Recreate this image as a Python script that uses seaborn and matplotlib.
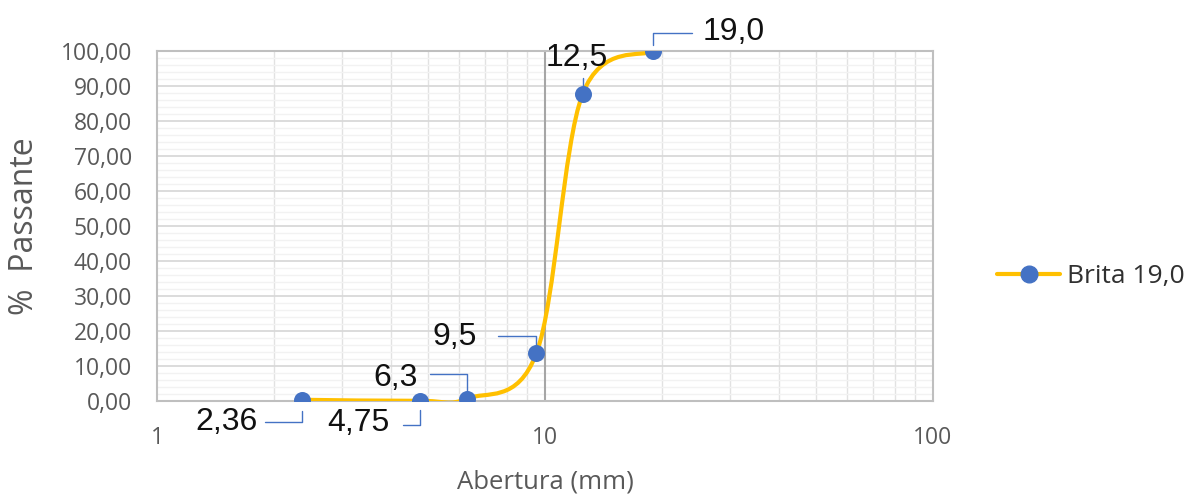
import matplotlib
matplotlib.use('Agg')
import matplotlib.pyplot as plt
import seaborn as sns
import pandas as pd
import numpy as np
from matplotlib.path import Path
from matplotlib.patches import PathPatch
from matplotlib.lines import Line2D
from matplotlib.ticker import FixedLocator, MultipleLocator, FuncFormatter, NullFormatter

# dados da curva granulometrica
aberturas = [2.36, 4.75, 6.3, 9.5, 12.5, 19.0]
passante = [0.35, 0.05, 0.7, 13.6, 87.7, 100.0]
rotulos = ['2,36', '4,75', '6,3', '9,5', '12,5', '19,0']
serie = 'Brita 19,0'

# posicao dos rotulos (pixels em relacao ao ponto)
rot_pos = [(-44, -22, 'right'), (-30, -22, 'right'), (-49, 21, 'right'),
           (-59, 16, 'right'), (-6, 36, 'center'), (49, 19, 'left')]
guia_ini = [(-37, -22), (-17, -24), (-37, 25), (-38, 17), (0, 16), (39, 18)]
guia_gap = [11, 9, 6, 6, 6, 6]

AMARELO = '#FFC000'
AZUL = '#4472C4'

sns.set_style('white')
plt.rcParams['font.family'] = ['Open Sans', 'DejaVu Sans']

df = pd.DataFrame({'abertura': aberturas, 'passante': passante})

fig = plt.figure(figsize=(11.86, 4.95), dpi=100)
ax = fig.add_axes([157 / 1186, 1 - 401 / 495, (933 - 157) / 1186, (401 - 51) / 495])
ax.set_xscale('log')
ax.set_xlim(1, 100)
ax.set_ylim(0, 100)

# linha suavizada (bezier como no excel) feita em log x
lx = np.log10(df['abertura'].values)
yy = df['passante'].values
n = len(lx)
verts = [(10 ** lx[0], yy[0])]
codes = [Path.MOVETO]
for i in range(n - 1):
    p0 = (lx[max(i - 1, 0)], yy[max(i - 1, 0)])
    p1 = (lx[i], yy[i])
    p2 = (lx[i + 1], yy[i + 1])
    p3 = (lx[min(i + 2, n - 1)], yy[min(i + 2, n - 1)])
    c1 = (p1[0] + (p2[0] - p0[0]) / 6, p1[1] + (p2[1] - p0[1]) / 6)
    c2 = (p2[0] - (p3[0] - p1[0]) / 6, p2[1] - (p3[1] - p1[1]) / 6)
    for c in (c1, c2, p2):
        verts.append((10 ** c[0], c[1]))
        codes.append(Path.CURVE4)
curva = PathPatch(Path(verts, codes), fill=False, edgecolor=AMARELO, lw=3,
                  capstyle='round', joinstyle='round', zorder=3)
ax.add_patch(curva)

sns.scatterplot(data=df, x='abertura', y='passante', ax=ax, color=AZUL,
                s=150, edgecolor=AZUL, linewidth=0, zorder=4, legend=False)

# grades
ax.yaxis.set_major_locator(MultipleLocator(10))
ax.yaxis.set_minor_locator(MultipleLocator(2))
ax.xaxis.set_major_locator(FixedLocator([1, 10, 100]))
ax.xaxis.set_minor_locator(FixedLocator([k * 10 ** d for d in (0, 1) for k in range(2, 10)]))
ax.xaxis.set_minor_formatter(NullFormatter())
ax.xaxis.set_major_formatter(FuncFormatter(lambda v, p: '%d' % v))
ax.yaxis.set_major_formatter(FuncFormatter(lambda v, p: ('%.2f' % v).replace('.', ',')))
ax.grid(which='major', axis='y', color='#d9d9d9', lw=1.3)
ax.grid(which='minor', axis='y', color='#f2f2f2', lw=1.0)
ax.grid(which='minor', axis='x', color='#e2e2e2', lw=1.0)
ax.grid(which='major', axis='x', visible=False)
ax.axvline(10, color='#a6a6a6', lw=1.5, zorder=1.5)
ax.set_axisbelow(True)
for s in ax.spines.values():
    s.set_color('#bfbfbf')
    s.set_linewidth(1.5)

ax.tick_params(which='both', length=0)
ax.tick_params(axis='y', labelsize=16.5, labelcolor='#595959', pad=18)
ax.tick_params(axis='x', labelsize=16.5, labelcolor='#595959', pad=18)

ax.set_xlabel('Abertura (mm)', fontsize=18.5, color='#595959', labelpad=14)
ax.set_ylabel('%  Passante', fontsize=23, color='#595959', labelpad=14)

# rotulos de dados com linhas guia
for i in range(n):
    x, y = aberturas[i], passante[i]
    dx, dy, ha = rot_pos[i]
    ax.annotate(rotulos[i], xy=(x, y), xytext=(dx, dy), textcoords='offset pixels',
                ha=ha, va='center', fontsize=23, color='#111111',
                family=['Liberation Sans', 'DejaVu Sans'], zorder=6)
    gx, gy = guia_ini[i]
    ax.annotate('', xy=(x, y), xytext=(gx, gy), textcoords='offset pixels',
                arrowprops=dict(arrowstyle='-', color=AZUL, lw=1,
                                connectionstyle='angle,angleA=0,angleB=90,rad=0',
                                shrinkA=0, shrinkB=guia_gap[i] * 0.72), zorder=5)

handle = Line2D([], [], color=AMARELO, lw=3, marker='o', markersize=12,
                markerfacecolor=AZUL, markeredgecolor=AZUL)
leg = fig.legend([handle], [serie], loc='center left',
                 bbox_to_anchor=(997 / 1186, 1 - 277 / 495), frameon=False,
                 borderpad=0, borderaxespad=0, handlelength=2.4, handletextpad=0.25,
                 fontsize=19)
for t in leg.get_texts():
    t.set_color('#303030')

fig.savefig('out.png', dpi=100)
